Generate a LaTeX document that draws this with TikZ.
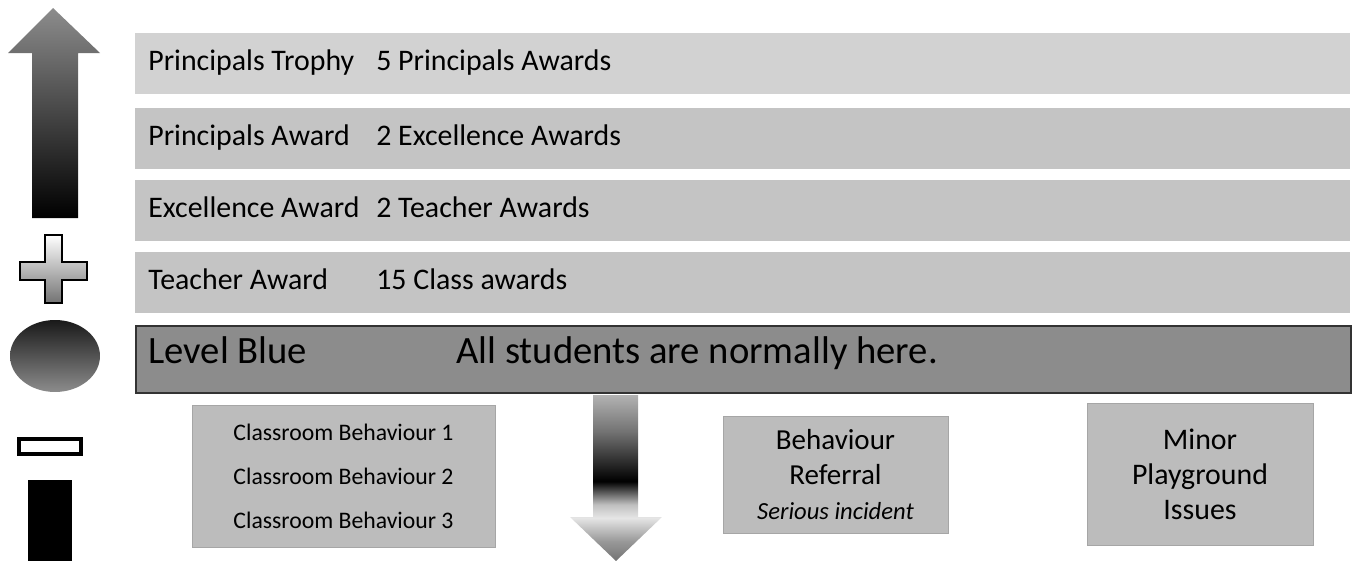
\documentclass[tikz,border=0pt]{standalone}
\usepackage{fontspec}
\setmainfont{Carlito}
\definecolor{barfill}{RGB}{196,196,196}
\definecolor{toplight}{RGB}{210,210,210}
\definecolor{levelfill}{RGB}{140,140,140}
\definecolor{boxfill}{RGB}{188,188,188}
\pgfdeclareverticalshading{downshade}{100bp}{color(0bp)=(black!55); color(25bp)=(black!55); color(31bp)=(black!40); color(38bp)=(black!10); color(42bp)=(black!25); color(49bp)=(black); color(64bp)=(black!55); color(75bp)=(black!30); color(100bp)=(black!30)}

\begin{document}
\begin{tikzpicture}[
    x=0.02cm, y=-0.02cm,
    bar/.style={anchor=north west, fill=barfill, minimum width=24.3cm, minimum height=1.22cm, inner sep=0pt},
    bartext/.style={anchor=west, inner sep=0pt, text height=0.84em, text depth=0.04em, font=\fontsize{17}{20}\selectfont},
    bluetext/.style={bartext, text height=0.72em, text depth=0.22em, font=\fontsize{22}{26}\selectfont},
    lowbox/.style={fill=boxfill, draw=black!35, inner sep=0pt, align=center}
]
\useasboundingbox (0,0) rectangle (1357,561);

% award levels
\node[bar, fill=toplight] (bar1) at (135,33) {};
\node[bar] (bar2) at (135,108) {};
\node[bar] (bar3) at (135,180) {};
\node[bar] (bar4) at (135,252) {};
\node[bar, fill=levelfill, draw=black!80, line width=1pt, minimum height=1.34cm] (bar5) at (135,325) {};

\node[bartext] (trophy) at ([xshift=0.26cm]bar1.west) {Principals Trophy};
\node[bartext] (trophyneed) at ([xshift=4.82cm]bar1.west) {5 Principals Awards};
\node[bartext] (principal) at ([xshift=0.26cm]bar2.west) {Principals Award};
\node[bartext] (principalneed) at ([xshift=4.82cm]bar2.west) {2 Excellence Awards};
\node[bartext] (excellence) at ([xshift=0.26cm]bar3.west) {Excellence Award};
\node[bartext] (excellenceneed) at ([xshift=4.82cm]bar3.west) {2 Teacher Awards};
\node[bartext] (teacher) at ([xshift=0.26cm]bar4.west) {Teacher Award};
\node[bartext] (teacherneed) at ([xshift=4.82cm]bar4.west) {15 Class awards};
\node[bluetext] (blue) at ([xshift=0.26cm]bar5.west) {Level Blue};
\node[bluetext] (bluenote) at ([xshift=6.42cm]bar5.west) {All students are normally here.};

% consequences
\node[lowbox, minimum width=6.06cm, minimum height=2.84cm, font=\fontsize{13.5}{25}\selectfont] (classbox) at (343.5,476)
    {Classroom Behaviour 1\\Classroom Behaviour 2\\Classroom Behaviour 3};
\node[lowbox, minimum width=4.5cm, minimum height=2.34cm, font=\fontsize{16.5}{20}\selectfont] (referral) at (835.5,474.5)
    {Behaviour\\Referral\\{\fontsize{14}{17}\selectfont\itshape Serious incident}};
\node[lowbox, minimum width=4.52cm, minimum height=2.84cm, font=\fontsize{17}{20}\selectfont] (playground) at (1200,474)
    {Minor\\Playground\\Issues};

% down arrow
\path[shading=downshade] (593,395) -- (638,395) -- (638,517) -- (662,517) -- (616,561) -- (570,517) -- (593,517) -- cycle;

% left symbols
\path[top color=black!45, bottom color=black] (53,8) -- (100,53) -- (78,53) -- (78,218) -- (32,218) -- (32,53) -- (8,53) -- cycle;
\draw[black, line width=1.2pt, top color=white, bottom color=black!55]
    (45,235) -- (62,235) -- (62,262) -- (87,262) -- (87,280) -- (62,280) -- (62,303) -- (45,303)
    -- (45,280) -- (20,280) -- (20,262) -- (45,262) -- cycle;
\path[top color=black!90, bottom color=black!45] (55,356) ellipse [x radius=0.9cm, y radius=0.72cm];
\draw[black, line width=2pt, fill=white] (19,439) rectangle (81,454);
\fill[black] (28,480) rectangle (72,561);
\end{tikzpicture}
\end{document}
